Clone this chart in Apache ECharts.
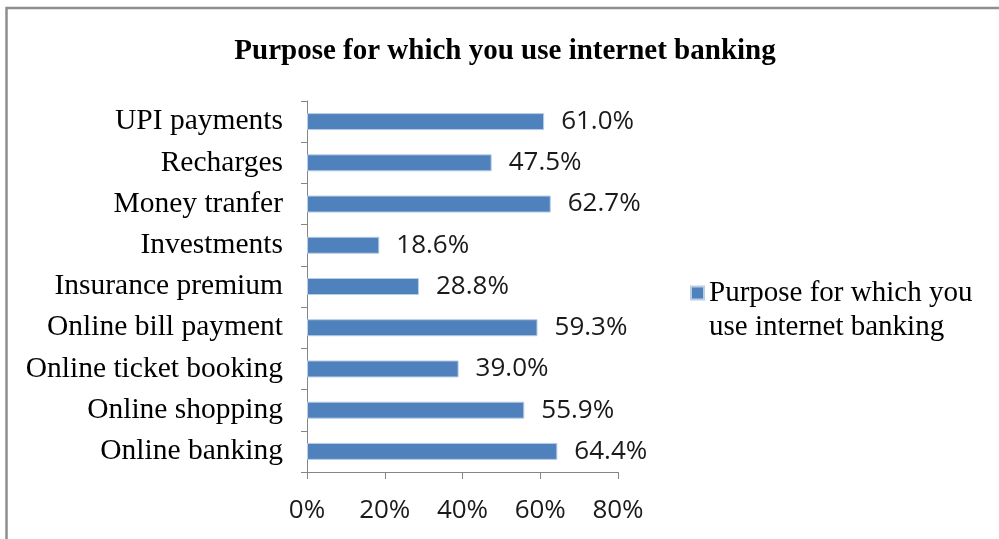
<!DOCTYPE html>
<html>
<head>
<meta charset="utf-8">
<script src="https://cdn.jsdelivr.net/npm/echarts@6/dist/echarts.min.js"></script>
<style>
  html, body { margin: 0; padding: 0; background: #fff; }
  #chart { width: 999px; height: 539px; }
</style>
</head>
<body>
<div id="chart"></div>
<script>
// Survey: purposes for which respondents use internet banking (share of respondents, %)
const chartTitle = 'Purpose for which you use internet banking';
const seriesName = 'Purpose for which you use internet banking';
// Listed bottom-to-top as they appear on the category axis
const categories = [
  'Online banking',
  'Online shopping',
  'Online ticket booking',
  'Online bill payment',
  'Insurance premium',
  'Investments',
  'Money tranfer',
  'Recharges',
  'UPI payments'
];
const shares = [64.4, 55.9, 39.0, 59.3, 28.8, 18.6, 62.7, 47.5, 61.0];
const axisMin = 0;
const axisMax = 80;
const axisStep = 20;

const serif = '"Liberation Serif", "Times New Roman", serif';
const sans = '"Open Sans", "Noto Sans", sans-serif';
const axisGrey = '#868686';

const chart = echarts.init(document.getElementById('chart'), null, { renderer: 'canvas' });

chart.setOption({
  backgroundColor: '#ffffff',
  animation: false,
  graphic: [{
    // outer chart frame (left and top edges visible)
    type: 'rect',
    shape: { x: 6.5, y: 8, width: 1200, height: 800 },
    style: { fill: 'none', stroke: '#8e8e8e', lineWidth: 2.5 },
    silent: true,
    z: 100
  }],
  title: {
    text: chartTitle,
    left: 500,
    textAlign: 'center',
    top: 32,
    textStyle: {
      fontFamily: serif,
      fontWeight: 'bold',
      fontSize: 29,
      color: '#000'
    }
  },
  grid: {
    left: 307,
    right: 381,
    top: 101,
    bottom: 67,
    containLabel: false
  },
  legend: {
    data: [seriesName],
    orient: 'vertical',
    left: 690,
    top: 242,
    padding: 0,
    icon: 'rect',
    itemWidth: 13,
    itemHeight: 13,
    // leading empty line keeps the first text line level with the swatch
    formatter: () => '\nPurpose for which you\nuse internet banking',
    textStyle: {
      fontFamily: serif,
      fontSize: 29,
      lineHeight: 34,
      color: '#000'
    }
  },
  xAxis: {
    type: 'value',
    min: axisMin,
    max: axisMax,
    interval: axisStep,
    axisLine: { show: true, lineStyle: { color: axisGrey, width: 1 } },
    axisTick: { show: true, length: 7, lineStyle: { color: axisGrey } },
    splitLine: { show: false },
    axisLabel: {
      formatter: '{value}%',
      margin: 26,
      fontFamily: sans,
      fontSize: 26,
      color: '#1a1a1a'
    }
  },
  yAxis: {
    type: 'category',
    data: categories,
    axisLine: { show: true, lineStyle: { color: axisGrey, width: 1 } },
    axisTick: { show: true, length: 6, lineStyle: { color: axisGrey } },
    axisLabel: {
      margin: 24,
      fontFamily: serif,
      fontSize: 29.5,
      lineHeight: 30,
      padding: [3, 0, 0, 0],
      color: '#000'
    }
  },
  series: [{
    name: seriesName,
    type: 'bar',
    data: shares,
    barWidth: 17,
    itemStyle: {
      color: '#4f81bd',
      borderColor: '#b9cde5',
      borderWidth: 1
    },
    label: {
      show: true,
      position: 'right',
      distance: 17,
      formatter: p => p.value.toFixed(1) + '%',
      fontFamily: sans,
      fontSize: 26,
      padding: [3, 0, 0, 0],
      color: '#1a1a1a'
    }
  }]
});
</script>
</body>
</html>
